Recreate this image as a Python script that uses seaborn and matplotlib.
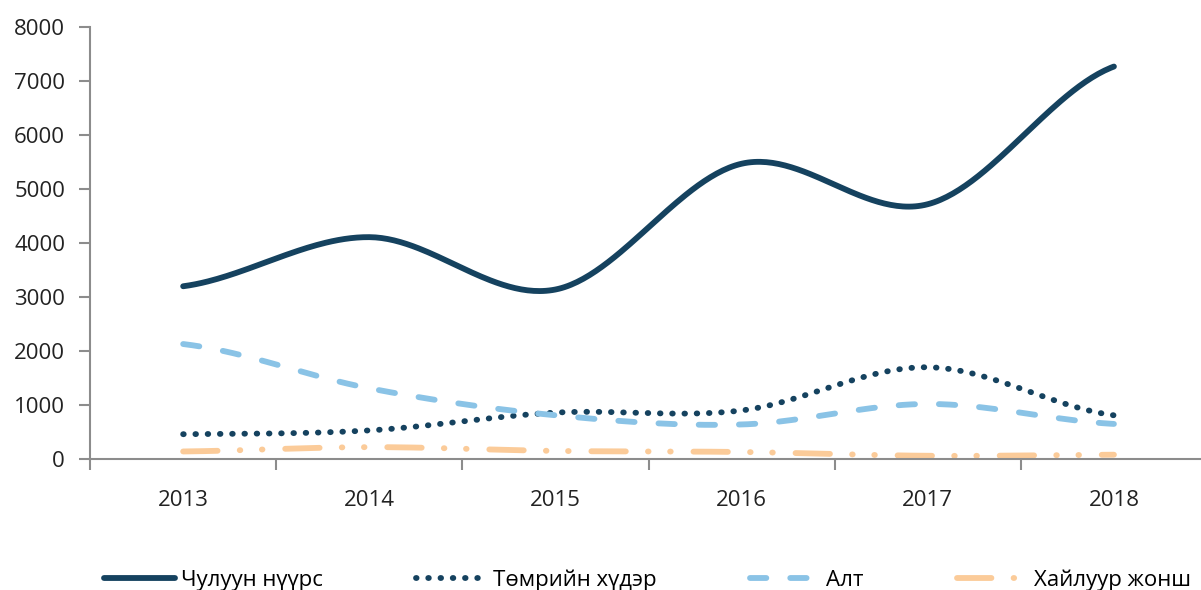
import numpy as np
import pandas as pd
import matplotlib
matplotlib.use("Agg")
import matplotlib.pyplot as plt
import seaborn as sns
from matplotlib.lines import Line2D

years = ["2013", "2014", "2015", "2016", "2017", "2018"]
coal = [3200, 4110, 3140, 5470, 4720, 7270]
iron = [460, 530, 860, 900, 1700, 810]
gold = [2130, 1310, 810, 640, 1020, 650]
fluor = [140, 220, 150, 130, 60, 80]

series_names = ["Чулуун нүүрс", "Төмрийн хүдэр", "Алт", "Хайлуур жонш"]
series_vals = [coal, iron, gold, fluor]
colors = ["#15425F", "#15425F", "#8AC3E6", "#FBCB99"]
dashes = [(None, None), (0.1, 2.0), (2.8, 4.1), (5.9, 3.8, 0.1, 3.7, 0.1, 3.9)]


def catmull_rom(y, n=60):
    y = np.asarray(y, dtype=float)
    x = np.arange(len(y), dtype=float)
    xs, ys = [], []
    for i in range(len(y) - 1):
        p0 = y[i - 1] if i > 0 else y[i]
        p1, p2 = y[i], y[i + 1]
        p3 = y[i + 2] if i + 2 < len(y) else y[i + 1]
        t = np.linspace(0, 1, n, endpoint=(i == len(y) - 2))
        c1 = p1 + (p2 - p0) / 6
        c2 = p2 - (p3 - p1) / 6
        b = (1 - t) ** 3 * p1 + 3 * (1 - t) ** 2 * t * c1 + 3 * (1 - t) * t ** 2 * c2 + t ** 3 * p2
        xs.append(x[i] + t)
        ys.append(b)
    return np.concatenate(xs), np.concatenate(ys)


plt.rcParams["font.family"] = ["Open Sans", "DejaVu Sans"]
fig = plt.figure(figsize=(12.01, 5.90), dpi=100)
ax = fig.add_axes([0.075, 0.222, 0.93, 0.732])

frames = []
for name, vals in zip(series_names, series_vals):
    xs, ys = catmull_rom(vals)
    frames.append(pd.DataFrame({"x": xs, "y": ys, "series": name}))
df = pd.concat(frames, ignore_index=True)

for name, col, dsh in zip(series_names, colors, dashes):
    sub = df[df["series"] == name]
    sns.lineplot(data=sub, x="x", y="y", ax=ax, color=col, lw=4.2, legend=False,
                 sort=False, estimator=None)
    line = ax.lines[-1]
    line.set_solid_capstyle("round")
    line.set_dash_capstyle("round")
    if dsh[0] is not None:
        line.set_dashes(dsh)

ax.set_xlim(-0.5, 5.47)
ax.set_ylim(0, 8000)
ax.set_yticks(np.arange(0, 8001, 1000))
ax.set_xticks(range(len(years)))
ax.set_xticklabels(years)
ax.set_xticks(np.arange(-0.5, 5.6, 1), minor=True)
ax.tick_params(axis="x", which="major", length=0, pad=22, labelsize=16, colors="#222222")
ax.tick_params(axis="x", which="minor", length=8, width=1.5, color="#8c8c8c", direction="out")
ax.tick_params(axis="y", length=8, width=1.5, color="#8c8c8c", labelsize=16, labelcolor="#222222", pad=10)
for s in ["top", "right"]:
    ax.spines[s].set_visible(False)
for s in ["left", "bottom"]:
    ax.spines[s].set_color("#8c8c8c")
    ax.spines[s].set_linewidth(1.5)
ax.set_xlabel("")
ax.set_ylabel("")
ax.set_facecolor("white")

handles = []
for col, dsh in zip(colors, dashes):
    h = Line2D([0], [0], color=col, lw=4.2, solid_capstyle="round", dash_capstyle="round")
    if dsh[0] is not None:
        h.set_dashes(dsh)
    handles.append(h)
fig.legend(handles, series_names, loc="lower center", bbox_to_anchor=(0.539, -0.035), ncol=4,
           frameon=False, fontsize=16, handlelength=3.2, columnspacing=4.2, handletextpad=0.25)

fig.savefig("out.png", dpi=100, facecolor="white")
